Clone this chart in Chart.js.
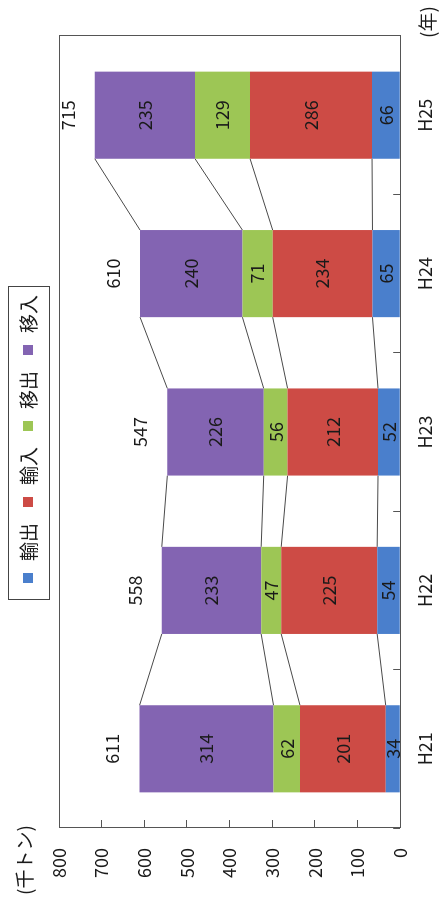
<!DOCTYPE html>
<html>
<head>
<meta charset="utf-8">
<script src="https://cdn.jsdelivr.net/npm/chart.js@4.4.0/dist/chart.umd.min.js"></script>
<style>
    html, body { margin: 0; padding: 0; background: #fff; overflow: hidden; }
    #wrap {
        position: absolute;
        left: 0;
        top: 0;
        width: 908px;
        height: 439px;
        transform-origin: 0 0;
        transform: translate(0px, 908px) rotate(-90deg);
    }
</style>
</head>
<body>
<div id="wrap"><canvas id="chart" width="908" height="439"></canvas></div>
<script>
const categories = ['H21', 'H22', 'H23', 'H24', 'H25'];
const seriesNames = ['輸出', '輸入', '移出', '移入'];
const exportValues = [34, 54, 52, 65, 66];       // 輸出
const importValues = [201, 225, 212, 234, 286];  // 輸入
const shipOutValues = [62, 47, 56, 71, 129];     // 移出
const shipInValues = [314, 233, 226, 240, 235];  // 移入
const totals = [611, 558, 547, 610, 715];
const yMin = 0;
const yMax = 800;
const yStep = 100;
const unitLabel = '(千トン)';
const yearLabel = '(年)';

const FONT = '"Noto Sans CJK JP", "Noto Sans", sans-serif';
const colors = ['#4a7fcc', '#cd4b45', '#9dc655', '#8364b2'];
const lineColor = '#4a4a4a';
const textColor = '#1a1a1a';

const ctx = document.getElementById('chart');

// lines joining the top of each segment between neighbouring bars
const seriesLines = {
    id: 'seriesLines',
    beforeDatasetsDraw(chart) {
        const c = chart.ctx;
        c.save();
        c.strokeStyle = lineColor;
        c.lineWidth = 1;
        chart.data.datasets.forEach((ds, d) => {
            const bars = chart.getDatasetMeta(d).data;
            for (let i = 0; i < bars.length - 1; i++) {
                const a = bars[i], b = bars[i + 1];
                c.beginPath();
                c.moveTo(a.x + a.width / 2, a.y);
                c.lineTo(b.x - b.width / 2, b.y);
                c.stroke();
            }
        });
        c.restore();
    }
};

const valueLabels = {
    id: 'valueLabels',
    afterDatasetsDraw(chart) {
        const c = chart.ctx;
        c.save();
        c.font = `18px ${FONT}`;
        c.fillStyle = textColor;
        c.textAlign = 'center';
        c.textBaseline = 'middle';
        chart.data.datasets.forEach((ds, d) => {
            chart.getDatasetMeta(d).data.forEach((bar, i) => {
                c.fillText(String(ds.data[i]), bar.x, (bar.y + bar.base) / 2);
            });
        });
        const top = chart.getDatasetMeta(chart.data.datasets.length - 1).data;
        top.forEach((bar, i) => {
            c.fillText(String(totals[i]), bar.x, bar.y - 27);
        });
        c.restore();
    }
};

const frame = {
    id: 'frame',
    afterDraw(chart) {
        const c = chart.ctx;
        const a = chart.chartArea;
        c.save();
        c.strokeStyle = '#555';
        c.lineWidth = 1;
        c.strokeRect(Math.round(a.left) + 0.5, Math.round(a.top) + 0.5,
            Math.round(a.right - a.left), Math.round(a.bottom - a.top));

        // unit labels
        c.fillStyle = textColor;
        c.font = `19px ${FONT}`;
        c.textAlign = 'center';
        c.textBaseline = 'middle';
        c.fillText(unitLabel, 48, 25);
        c.fillText(yearLabel, 886, 428);

        // legend box
        c.strokeStyle = '#444';
        c.strokeRect(308.5, 8.5, 313, 41);
        c.textAlign = 'left';
        chart.data.datasets.forEach((ds, d) => {
            const x = 325 + d * 76;
            c.fillStyle = ds.backgroundColor;
            c.fillRect(x, 23, 10, 10);
            c.fillStyle = textColor;
            c.fillText(ds.label, x + 22, 29);
        });
        c.restore();
    }
};

new Chart(ctx, {
    type: 'bar',
    data: {
        labels: categories,
        datasets: [
            { label: seriesNames[0], data: exportValues, backgroundColor: colors[0] },
            { label: seriesNames[1], data: importValues, backgroundColor: colors[1] },
            { label: seriesNames[2], data: shipOutValues, backgroundColor: colors[2] },
            { label: seriesNames[3], data: shipInValues, backgroundColor: colors[3] }
        ]
    },
    options: {
        responsive: false,
        animation: false,
        layout: { padding: { top: 59, left: 0, right: 36, bottom: 0 } },
        datasets: {
            bar: { barPercentage: 0.55, categoryPercentage: 1, borderWidth: 0 }
        },
        plugins: {
            legend: { display: false },
            tooltip: { enabled: false }
        },
        scales: {
            x: {
                stacked: true,
                border: { display: false },
                grid: { drawOnChartArea: false, drawTicks: true, tickLength: -7, color: '#555', offset: true },
                ticks: { color: textColor, font: { family: FONT, size: 18 }, padding: 21 },
                afterFit(scale) { scale.height = 35; }
            },
            y: {
                stacked: true,
                min: yMin,
                max: yMax,
                border: { display: false },
                grid: { drawOnChartArea: false, drawTicks: true, tickLength: -8, color: '#555' },
                ticks: { stepSize: yStep, color: textColor, font: { family: FONT, size: 18 }, padding: 28 },
                afterFit(scale) { scale.width = 80; }
            }
        }
    },
    plugins: [seriesLines, valueLabels, frame]
});
</script>
</body>
</html>
